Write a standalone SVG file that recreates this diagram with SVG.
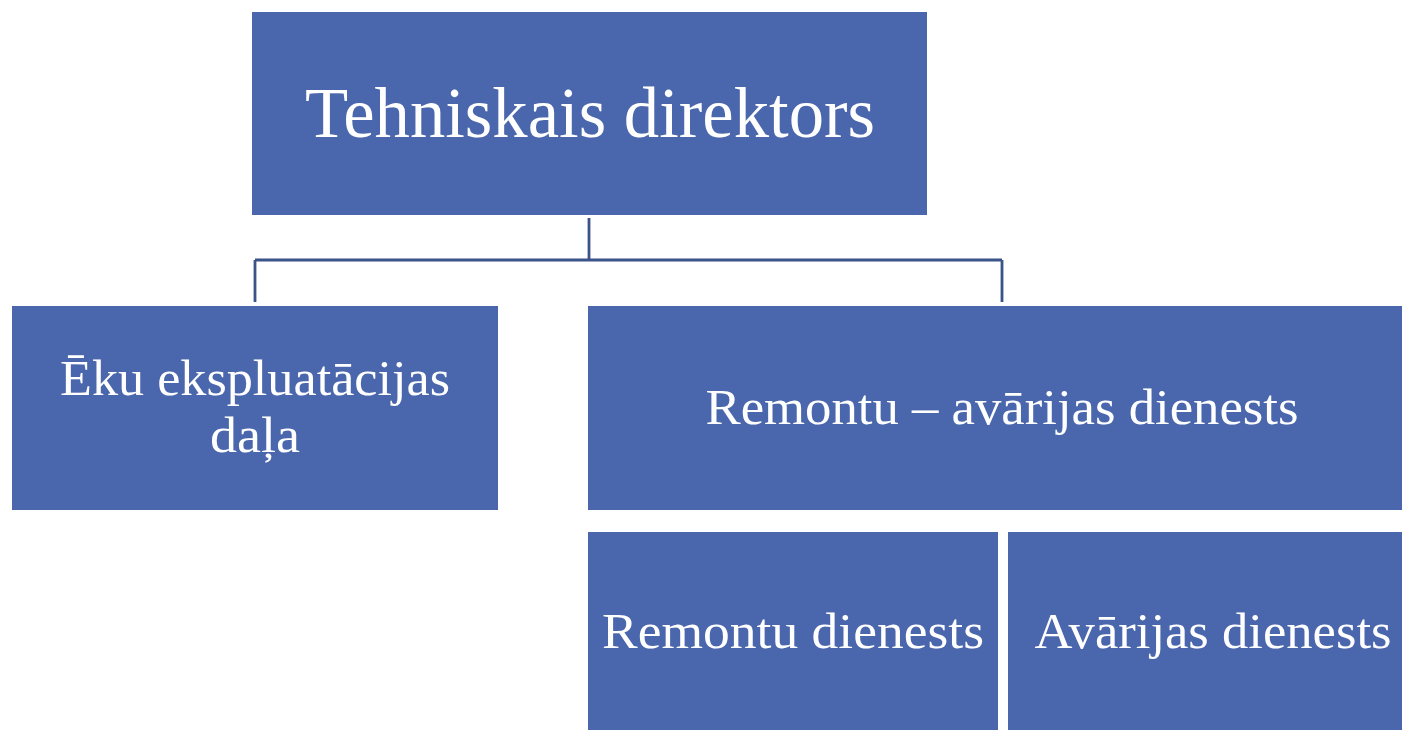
<svg xmlns="http://www.w3.org/2000/svg" width="1402" height="730" viewBox="0 0 1402 730">
<style>
.box{fill:#4a66ac;}
.t{fill:#ffffff;font-family:"Liberation Serif","DejaVu Serif",serif;text-anchor:middle;}
.big{font-size:71px;}
.mid{font-size:51px;}
.conn{fill:none;stroke:#3a5388;stroke-width:2.8;}
</style>
<rect width="1402" height="730" fill="#ffffff"/>
<g id="connectors">
<path class="conn" d="M589 218 V260 M255 260 H1002 M255 260 V302 M1002 260 V302"/>
</g>
<g id="node-tehniskais">
<rect class="box" x="252" y="12" width="675" height="203"/>
<text class="t big" x="590" y="137" textLength="570" lengthAdjust="spacingAndGlyphs">Tehniskais direktors</text>
</g>
<g id="node-eku">
<rect class="box" x="12" y="306" width="486" height="204"/>
<text class="t mid" x="255" y="395" textLength="390" lengthAdjust="spacingAndGlyphs">Ēku ekspluatācijas</text>
<text class="t mid" x="255" y="452" textLength="90" lengthAdjust="spacingAndGlyphs">daļa</text>
</g>
<g id="node-remontu-avarijas">
<rect class="box" x="588" y="306" width="814" height="204"/>
<text class="t mid" x="1002" y="424" textLength="593" lengthAdjust="spacingAndGlyphs">Remontu – avārijas dienests</text>
</g>
<g id="node-remontu">
<rect class="box" x="588" y="532" width="410" height="198"/>
<text class="t mid" x="793" y="648" textLength="382" lengthAdjust="spacingAndGlyphs">Remontu dienests</text>
</g>
<g id="node-avarijas">
<rect class="box" x="1008" y="532" width="394" height="198"/>
<text class="t mid" x="1213" y="648" textLength="357" lengthAdjust="spacingAndGlyphs">Avārijas dienests</text>
</g>
</svg>
